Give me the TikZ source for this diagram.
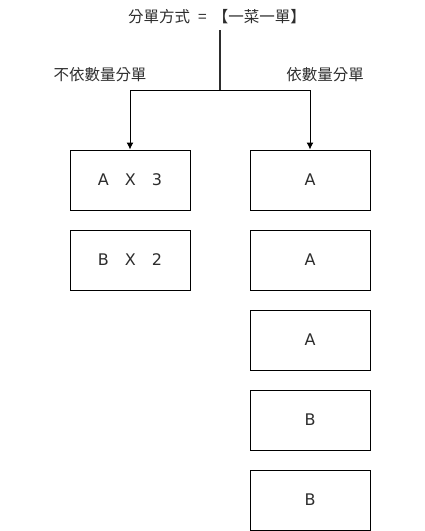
\documentclass[tikz,border=0pt]{standalone}
\usepackage{fontspec}
\usetikzlibrary{arrows.meta}
\setmainfont{DejaVu Sans}
\newfontfamily\cjk{Noto Sans CJK TC}
\definecolor{txt}{RGB}{45,45,45}
\begin{document}
\begin{tikzpicture}[x=1pt,y=-1pt,
  box/.style={draw=black,line width=1pt,minimum width=120pt,minimum height=60pt,inner sep=0pt,font=\fontsize{16}{18}\selectfont,text=txt},
  lbl/.style={inner sep=0pt,font=\cjk\fontsize{15.5}{18}\selectfont,text=txt},
  conn/.style={draw=black,line width=1pt,-{Latex[length=7pt,width=7pt]}}]
\useasboundingbox (0,0) rectangle (425,531);
\node[lbl] (title) at (217,17) {分單方式\hspace{8pt}=\hspace{6pt}【一菜一單】};
\coordinate (top) at (220,30);
\coordinate (mid) at (220,90);
\node[box] (l1) at (130,180) {A\hspace{16pt}X\hspace{16pt}3};
\node[box] (l2) at (130,260) {B\hspace{16pt}X\hspace{16pt}2};
\node[box] (r1) at (310,180) {A};
\node[box] (r2) at (310,260) {A};
\node[box] (r3) at (310,340) {A};
\node[box] (r4) at (310,420) {B};
\node[box] (r5) at (310,500) {B};
\node[lbl] (ll) at (100,75) {不依數量分單};
\node[lbl] (rl) at (325,75) {依數量分單};
\draw[line width=2pt,draw=txt] (top) -- (mid);
\draw[conn] (mid) -| (l1.north);
\draw[conn] (mid) -| (r1.north);
\end{tikzpicture}
\end{document}
